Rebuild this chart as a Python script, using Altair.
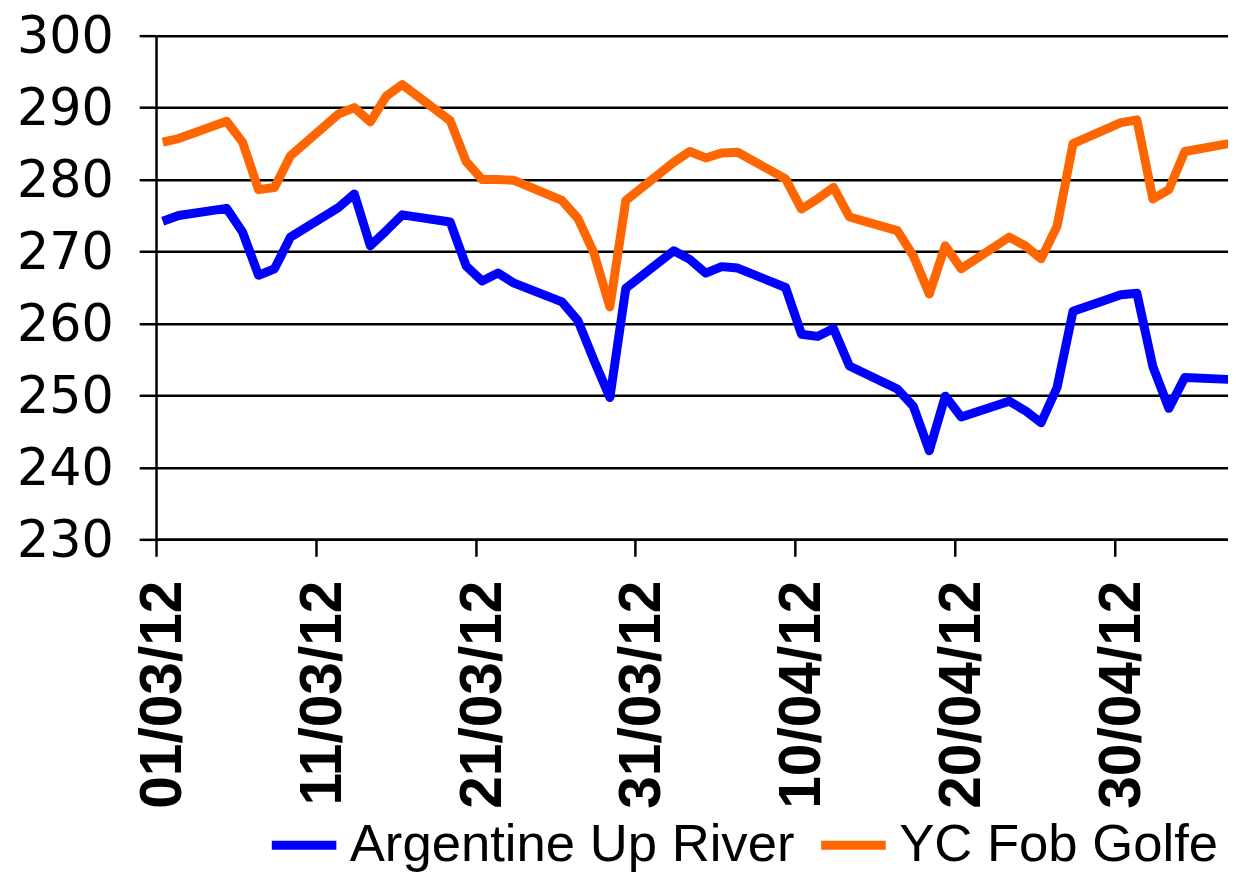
import altair as alt
import pandas as pd

# Business days (Excel-style date axis: each point centred in its day slot)
dates = [
    "2012-03-01", "2012-03-02", "2012-03-05", "2012-03-06", "2012-03-07", "2012-03-08", "2012-03-09",
    "2012-03-12", "2012-03-13", "2012-03-14", "2012-03-15", "2012-03-16",
    "2012-03-19", "2012-03-20", "2012-03-21", "2012-03-22", "2012-03-23",
    "2012-03-26", "2012-03-27", "2012-03-28", "2012-03-29", "2012-03-30",
    "2012-04-02", "2012-04-03", "2012-04-04", "2012-04-05", "2012-04-06",
    "2012-04-09", "2012-04-10", "2012-04-11", "2012-04-12", "2012-04-13",
    "2012-04-16", "2012-04-17", "2012-04-18", "2012-04-19", "2012-04-20",
    "2012-04-23", "2012-04-24", "2012-04-25", "2012-04-26", "2012-04-27",
    "2012-04-30", "2012-05-01", "2012-05-02", "2012-05-03", "2012-05-04", "2012-05-07",
]

argentine_up_river = [
    274.2, 275.0, 276.0, 272.7, 266.7, 267.6, 272.0,
    276.1, 278.0, 270.8, 272.9, 275.1,
    274.1, 268.0, 265.9, 267.0, 265.6,
    263.0, 260.4, 254.9, 249.7, 264.9,
    270.1, 268.9, 267.0, 267.9, 267.7,
    265.0, 258.5, 258.2, 259.3, 254.1,
    250.9, 248.5, 242.3, 249.9, 247.0,
    249.2, 247.9, 246.2, 251.1, 261.7,
    264.0, 264.2, 254.0, 248.2, 252.5, 252.2,
]

yc_fob_golfe = [
    285.2, 285.7, 288.1, 285.2, 278.6, 278.9, 283.3,
    289.1, 290.0, 288.0, 291.6, 293.2,
    288.2, 282.5, 280.0, 280.0, 279.9,
    277.1, 274.6, 269.8, 262.3, 277.1,
    282.4, 283.9, 283.0, 283.7, 283.8,
    280.1, 275.9, 277.3, 278.9, 274.8,
    272.9, 269.4, 264.1, 270.8, 267.6,
    272.0, 270.8, 269.0, 273.5, 285.0,
    287.9, 288.3, 277.3, 278.6, 283.9, 285.1,
]

series_names = ["Argentine Up River", "YC Fob Golfe"]
series_colors = ["#0000FF", "#FF6600"]
y_ticks = [230, 240, 250, 260, 270, 280, 290, 300]
x_tick_days = [(3, 1), (3, 11), (3, 21), (3, 31), (4, 10), (4, 20), (4, 30)]

rows = []
for d, a, g in zip(dates, argentine_up_river, yc_fob_golfe):
    t = d + "T10:00:00Z"
    rows.append({"date": t, "series": series_names[0], "value": a})
    rows.append({"date": t, "series": series_names[1], "value": g})
df = pd.DataFrame(rows)

x_axis = alt.Axis(
    values=[alt.DateTime(year=2012, month=m, date=dd, utc=True) for m, dd in x_tick_days],
    labelExpr="utcFormat(datum.value, '%d/%m/%y')",
    labelAngle=270,
    labelAlign="right",
    labelBaseline="middle",
    labelFont="Liberation Sans",
    labelFontWeight="bold",
    labelFontSize=59,
    labelColor="black",
    labelPadding=24,
    labelOffset=7,
    labelLimit=1000,
    labelFlush=False,
    labelOverlap=False,
    tickSize=17,
    tickWidth=2.5,
    tickColor="black",
    domainColor="black",
    domainWidth=2.5,
    grid=False,
    title=None,
)

y_axis = alt.Axis(
    values=y_ticks,
    grid=True,
    gridColor="black",
    gridWidth=2.5,
    gridOpacity=1,
    labelFont="DejaVu Sans",
    labelFontSize=51,
    labelColor="black",
    labelPadding=26,
    labelOffset=2,
    labelLimit=1000,
    tickSize=17,
    tickWidth=2.5,
    tickColor="black",
    domainColor="black",
    domainWidth=2.5,
    title=None,
)

legend = alt.Legend(
    title=None,
    orient="none",
    legendX=112,
    legendY=778,
    direction="horizontal",
    symbolType="stroke",
    symbolSize=4225,
    symbolStrokeWidth=9,
    labelFont="Liberation Sans",
    labelFontSize=53,
    labelColor="black",
    labelOffset=9,
    labelLimit=1000,
    columnPadding=8,
    padding=0,
)

chart = (
    alt.Chart(df)
    .mark_line(strokeWidth=9, clip=True, strokeJoin="round", strokeCap="butt")
    .encode(
        x=alt.X(
            "date:T",
            scale=alt.Scale(
                type="utc",
                domain=[
                    alt.DateTime(year=2012, month=3, date=1, utc=True),
                    alt.DateTime(year=2012, month=5, date=7, hours=2, minutes=53, utc=True),
                ],
            ),
            axis=x_axis,
        ),
        y=alt.Y(
            "value:Q",
            scale=alt.Scale(domain=[230, 300], nice=False, zero=False),
            axis=y_axis,
        ),
        color=alt.Color(
            "series:N",
            scale=alt.Scale(domain=series_names, range=series_colors),
            legend=legend,
        ),
        detail="series:N",
    )
    .properties(
        width=1079,
        height=507,
        autosize=alt.AutoSizeParams(type="none"),
        padding={"left": 149, "top": 25, "right": 0, "bottom": 332},
    )
    .configure_view(strokeWidth=0)
    .configure(background="white")
)

chart.save("out.html", embed_options={"renderer": "svg", "actions": False})
